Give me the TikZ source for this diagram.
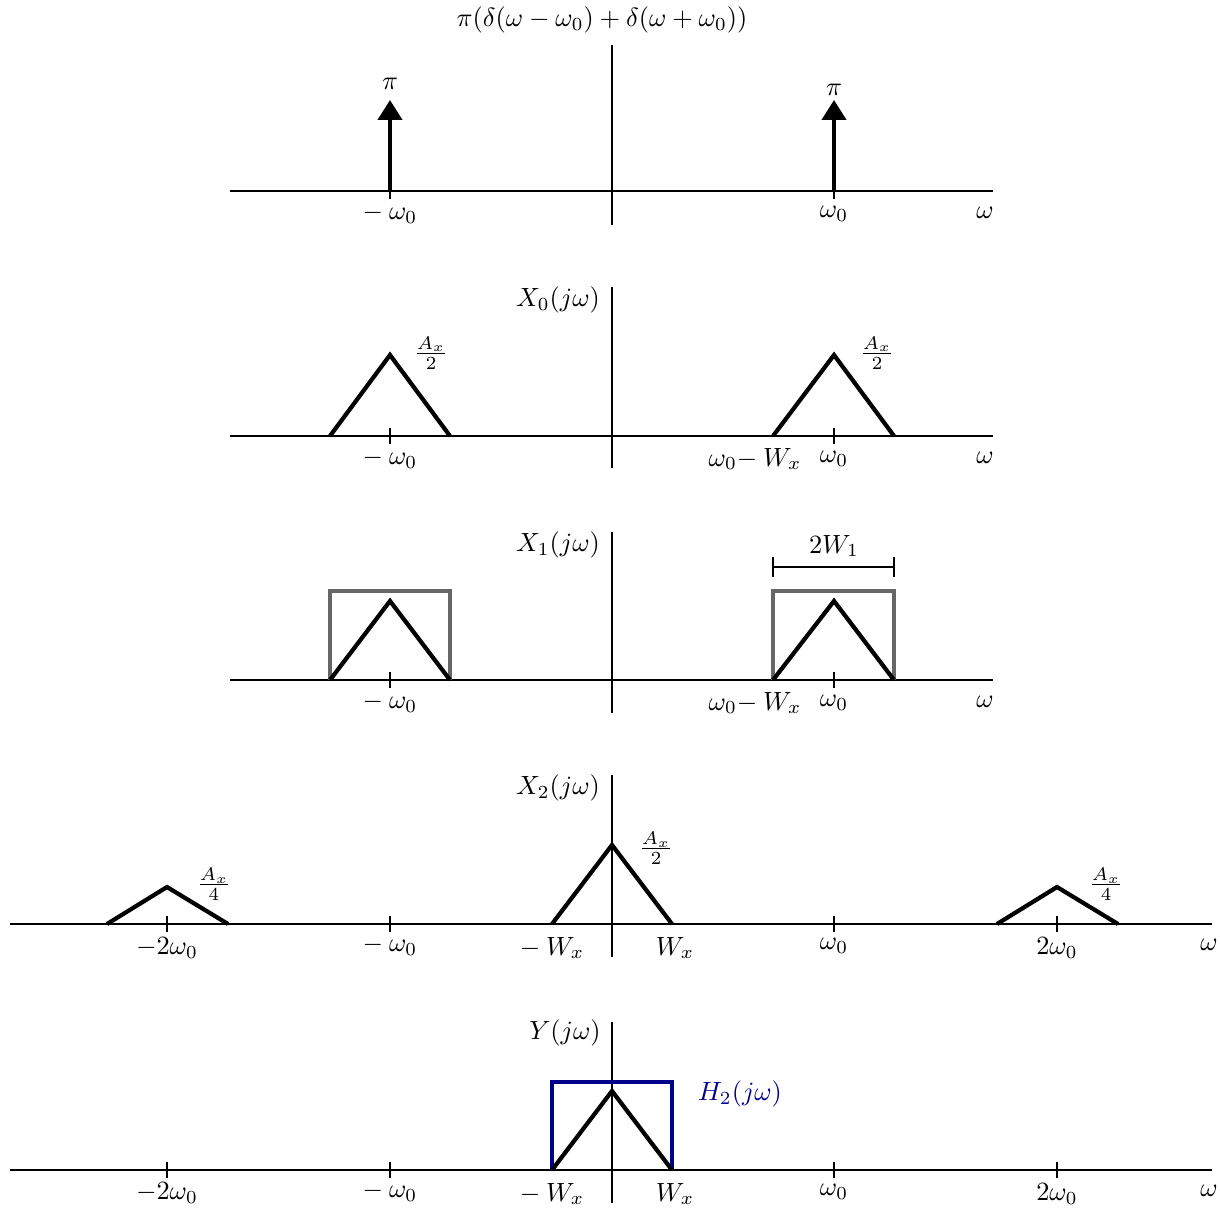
\documentclass[tikz,border=0pt]{standalone}
\usepackage{amsmath}
\usepackage{tikz}
\usetikzlibrary{arrows.meta}
\definecolor{filtblue}{RGB}{0,0,139}
\definecolor{bandgray}{RGB}{102,102,102}
\tikzset{
  axisline/.style={line width=1.2pt,draw=black},
  specline/.style={line width=2.4pt,draw=black,line join=miter},
  bandline/.style={line width=2.2pt,draw=bandgray},
  filtline/.style={line width=2.2pt,draw=filtblue},
  impulse/.style={-{Triangle[length=0.4cm,width=0.48cm]},line width=2.4pt},
  lbl/.style={scale=1.5,inner sep=0pt},
  fraclbl/.style={scale=1.5,inner sep=0pt}
}

\begin{document}
\begin{tikzpicture}[x=0.02cm,y=-0.02cm]
  \useasboundingbox (0,0) rectangle (1220,1207);
  % --- impulse train
  \draw[axisline] (230,191) -- (993,191);
  \draw[axisline] (612,45) -- (612,225);
  \foreach \tx in {390,834} \draw[axisline] (\tx,183) -- (\tx,199);
  \draw[impulse] (390,191) -- (390,100);
  \draw[impulse] (834,191) -- (834,100);
  \node[lbl] (ttl) at (602,20) {$\pi(\delta(\omega-\omega_0)+\delta(\omega+\omega_0))$};
  \node[lbl] (pil) at (390,84) {$\pi$};
  \node[lbl] (pir) at (834,90) {$\pi$};
  \node[lbl] (am1) at (390,214) {$-\:\omega_0$};
  \node[lbl] (ap1) at (834,214) {$\omega_0$};
  \node[lbl] (aw1) at (985,213) {$\omega$};
  % --- X0
  \draw[axisline] (230,436) -- (993,436);
  \draw[axisline] (612,287) -- (612,468);
  \foreach \tx in {390,834} \draw[axisline] (\tx,428) -- (\tx,444);
  \draw[specline] (330,436) -- (390,355) -- (450,436);
  \draw[specline] (773,436) -- (834,355) -- (894,436);
  \node[lbl] (x0) at (558,300) {$X_0(j\omega)$};
  \node[fraclbl] (h0l) at (431,353) {$\frac{A_x}{2}$};
  \node[fraclbl] (h0r) at (877,353) {$\frac{A_x}{2}$};
  \node[lbl] (bm2) at (390,459) {$-\:\omega_0$};
  \node[lbl] (bw2) at (755,459) {$\omega_0{-}\:W_x$};
  \node[lbl] (bp2) at (834,459) {$\omega_0$};
  \node[lbl] (bo2) at (985,458) {$\omega$};
  % --- X1
  \draw[axisline] (230,680) -- (993,680);
  \draw[axisline] (612,532) -- (612,713);
  \foreach \tx in {390,834} \draw[axisline] (\tx,672) -- (\tx,688);
  \draw[bandline] (330,680) |- (450,591) -- (450,680);
  \draw[bandline] (773,680) |- (894,591) -- (894,680);
  \draw[specline] (330,680) -- (390,601) -- (450,680);
  \draw[specline] (773,680) -- (834,601) -- (894,680);
  \draw[axisline] (773,567) -- (894,567);
  \draw[axisline] (773,557) -- (773,577);
  \draw[axisline] (894,557) -- (894,577);
  \node[lbl] (bw) at (834,546) {$2W_1$};
  \node[lbl] (x1) at (558,545) {$X_1(j\omega)$};
  \node[lbl] (cm3) at (390,703) {$-\:\omega_0$};
  \node[lbl] (cw3) at (755,703) {$\omega_0{-}\:W_x$};
  \node[lbl] (cp3) at (834,703) {$\omega_0$};
  \node[lbl] (co3) at (985,702) {$\omega$};
  % --- X2
  \draw[axisline] (10,924) -- (1212,924);
  \draw[axisline] (612,775) -- (612,957);
  \foreach \tx in {167,390,834,1057} \draw[axisline] (\tx,916) -- (\tx,932);
  \draw[specline] (107,924) -- (167,887) -- (228,924);
  \draw[specline] (552,924) -- (612,845) -- (672,924);
  \draw[specline] (997,924) -- (1057,887) -- (1118,924);
  \node[lbl] (x2) at (558,788) {$X_2(j\omega)$};
  \node[fraclbl] (q4l) at (214,884) {$\frac{A_x}{4}$};
  \node[fraclbl] (q2c) at (656,848) {$\frac{A_x}{2}$};
  \node[fraclbl] (q4r) at (1106,884) {$\frac{A_x}{4}$};
  \node[lbl] (dm2) at (167,948) {$-2\omega_0$};
  \node[lbl] (dm1) at (390,946) {$-\:\omega_0$};
  \node[lbl] (dwm) at (552,948) {$-\:W_x$};
  \node[lbl] (dwp) at (675,948) {$W_x$};
  \node[lbl] (dp1) at (834,946) {$\omega_0$};
  \node[lbl] (dp2) at (1057,948) {$2\omega_0$};
  \node[lbl] (dom) at (1209,945) {$\omega$};
  % --- Y
  \draw[axisline] (10,1170) -- (1212,1170);
  \draw[axisline] (612,1022) -- (612,1203);
  \foreach \tx in {167,390,834,1057} \draw[axisline] (\tx,1162) -- (\tx,1178);
  \draw[filtline] (552,1170) |- (672,1082) -- (672,1170);
  \draw[specline] (552,1170) -- (612,1091) -- (672,1170);
  \node[lbl] (yy) at (565,1033) {$Y(j\omega)$};
  \node[lbl,text=filtblue] (hh) at (740,1094) {$H_2(j\omega)$};
  \node[lbl] (em2) at (167,1193) {$-2\omega_0$};
  \node[lbl] (em1) at (390,1192) {$-\:\omega_0$};
  \node[lbl] (ewm) at (552,1194) {$-\:W_x$};
  \node[lbl] (ewp) at (675,1194) {$W_x$};
  \node[lbl] (ep1) at (834,1192) {$\omega_0$};
  \node[lbl] (ep2) at (1057,1194) {$2\omega_0$};
  \node[lbl] (eom) at (1209,1191) {$\omega$};
\end{tikzpicture}
\end{document}
